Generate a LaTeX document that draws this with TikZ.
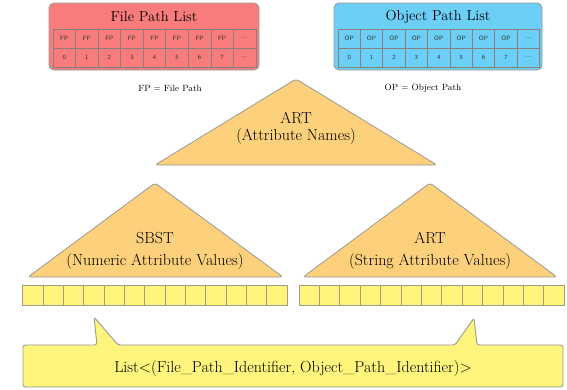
\documentclass[tikz,border=0pt]{standalone}
\definecolor{fpred}{HTML}{F77C7B}
\definecolor{opblue}{HTML}{6CCFF6}
\definecolor{treegold}{HTML}{FDD07C}
\definecolor{slotyellow}{HTML}{FFF57C}
\definecolor{edgegray}{HTML}{9A9A9A}
\definecolor{slotedge}{HTML}{A09C88}
\definecolor{celledge}{HTML}{8C7E7E}
\begin{document}
\begin{tikzpicture}[x=1pt,y=-1pt]
\tikzset{
  listbox/.style={draw=edgegray,line width=0.9pt,rounded corners=5pt},
  pcell/.style={draw=celledge,line width=0.7pt,minimum width=22.55pt,minimum height=19pt,
    inner sep=0pt,outer sep=0pt,anchor=north west,
    font=\sffamily\fontsize{6.3}{7}\selectfont,text=black!80},
  tree/.style={fill=treegold,draw=edgegray,line width=0.8pt,rounded corners=3pt},
  slot/.style={fill=slotyellow,draw=slotedge,line width=0.8pt,minimum width=20.4pt,
    minimum height=20pt,inner sep=0pt,outer sep=0pt,anchor=north west},
  listtitle/.style={font=\fontsize{14.5}{16}\selectfont},
  treelabel/.style={align=center},
  note/.style={font=\fontsize{9}{10}\selectfont},
}
\useasboundingbox (0,0) rectangle (567,389);

% File path list
\filldraw[listbox,fill=fpred] (49,3) rectangle (259,70);
\node[listtitle] (fptitle) at (154,17) {File Path List};
\foreach \i in {0,...,8} {
  \node[pcell,fill=fpred] (fpk\i) at ({53+22.55*\i},29) {\ifnum\i<8 FP\else...\fi};
  \node[pcell,fill=fpred] (fpi\i) at ({53+22.55*\i},48) {\ifnum\i<8 \i\else...\fi};
}
\node[note] (fpnote) at (170,88) {FP = File Path};

% Object path list
\filldraw[listbox,fill=opblue] (334,3) rectangle (542,70);
\node[listtitle] (optitle) at (438,17) {Object Path List};
\foreach \i in {0,...,8} {
  \node[pcell,fill=opblue,minimum width=22.4pt] (opk\i) at ({338+22.4*\i},29) {\ifnum\i<8 OP\else...\fi};
  \node[pcell,fill=opblue,minimum width=22.4pt] (opi\i) at ({338+22.4*\i},48) {\ifnum\i<8 \i\else...\fi};
}
\node[note] (opnote) at (423,88) {OP = Object Path};

% Trees
\filldraw[tree] (296,79) -- (437,165) -- (155,165) -- cycle;
\node[treelabel,font=\fontsize{16}{17}\selectfont] (names) at (296,128) {ART\\(Attribute Names)};

\filldraw[tree] (155,183) -- (283,277) -- (28,277) -- cycle;
\node[treelabel,font=\fontsize{16}{22}\selectfont] (numeric) at (155,251) {SBST\\(Numeric Attribute Values)};

\filldraw[tree] (430,183) -- (557,277) -- (303,277) -- cycle;
\node[treelabel,font=\fontsize{16}{22}\selectfont] (strings) at (430,251) {ART\\(String Attribute Values)};

% Posting slots under each value tree
\foreach \i in {0,...,12} {
  \node[slot,minimum width=20.33pt] (ls\i) at ({22.7+20.33*\i},285) {};
  \node[slot] (rs\i) at ({299+20.4*\i},285) {};
}

% Result list callout
\filldraw[fill=slotyellow,draw=edgegray,line width=0.9pt,rounded corners=2.5pt]
  (23,345) -- (97,345) -- (94,317) -- (118,345) -- (455,345) -- (474,318)
  -- (477,345) -- (563,345) -- (563,387) -- (23,387) -- cycle;
\node[font=\fontsize{16}{18}\selectfont] (result) at (293,368)
  {List\textless(File\_Path\_Identifier, Object\_Path\_Identifier)\textgreater};
\end{tikzpicture}
\end{document}
